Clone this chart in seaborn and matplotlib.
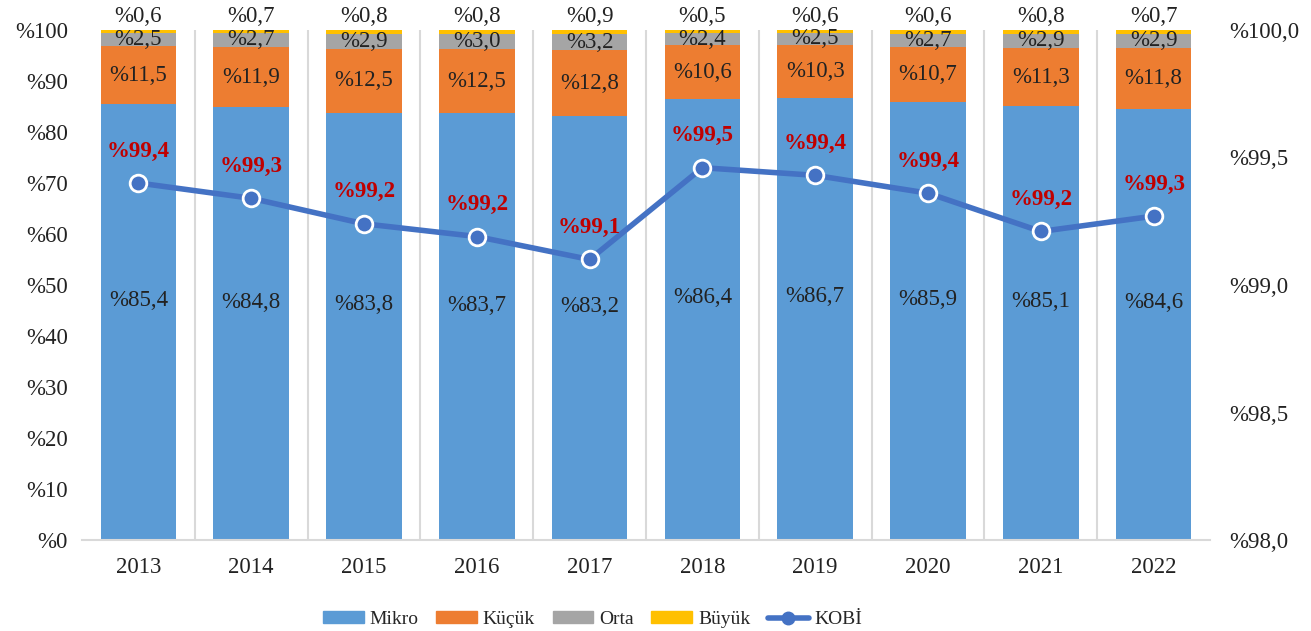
import matplotlib
matplotlib.use('Agg')
import matplotlib.pyplot as plt
import numpy as np
import pandas as pd
import seaborn as sns
from matplotlib.patches import Patch
from matplotlib.lines import Line2D

years = ["2013", "2014", "2015", "2016", "2017", "2018", "2019", "2020", "2021", "2022"]
mikro = [85.4, 84.8, 83.8, 83.7, 83.2, 86.4, 86.7, 85.9, 85.1, 84.6]
kucuk = [11.5, 11.9, 12.5, 12.5, 12.8, 10.6, 10.3, 10.7, 11.3, 11.8]
orta = [2.5, 2.7, 2.9, 3.0, 3.2, 2.4, 2.5, 2.7, 2.9, 2.9]
buyuk = [0.6, 0.7, 0.8, 0.8, 0.9, 0.5, 0.6, 0.6, 0.8, 0.7]
kobi = [99.40, 99.34, 99.24, 99.19, 99.10, 99.46, 99.43, 99.36, 99.21, 99.27]

colors = {"Mikro": "#5B9BD5", "Küçük": "#ED7D31", "Orta": "#A5A5A5", "Büyük": "#FFC000"}
line_color = "#4472C4"
fs = 16.5

sns.set_style("white")
plt.rcParams['font.family'] = ['Liberation Serif', 'DejaVu Serif']

def fmt(v, nd=1):
    return "%" + f"{v:.{nd}f}".replace(".", ",")

fig = plt.figure(figsize=(13.11, 6.31), dpi=100)
ax = fig.add_axes([0.0625, 0.1442, 0.8605, 0.8083])

df = pd.DataFrame({"year": years, "Mikro": mikro, "Küçük": kucuk, "Orta": orta, "Büyük": buyuk})
bottom = np.zeros(len(years))
for name in ["Mikro", "Küçük", "Orta", "Büyük"]:
    sns.barplot(data=df, x="year", y=name, color=colors[name], bottom=bottom,
                width=0.67, saturation=1, ax=ax, edgecolor="none")
    bottom = bottom + df[name].values

# bar labels
for i in range(len(years)):
    ax.text(i, mikro[i] * 0.55, fmt(mikro[i]), ha='center', va='center', fontsize=fs, color='#222222')
    ax.text(i, mikro[i] + kucuk[i] / 2, fmt(kucuk[i]), ha='center', va='center', fontsize=fs, color='#222222')
    ax.text(i, mikro[i] + kucuk[i] + orta[i] / 2, fmt(orta[i]), ha='center', va='center', fontsize=fs, color='#222222')
    ax.text(i, 102.6, fmt(buyuk[i]), ha='center', va='center', fontsize=fs, color='#222222', clip_on=False)

ax.set_xlim(-0.5, len(years) - 0.5)
ax.set_ylim(0, 100)
ax.set_yticks(range(0, 101, 10))
ax.set_yticklabels(["%" + str(v) for v in range(0, 101, 10)])
ax.set_xlabel("")
ax.set_ylabel("")
ax.tick_params(axis='both', labelsize=fs, length=0, colors='#222222')
ax.tick_params(axis='x', pad=12)
ax.tick_params(axis='y', pad=10)
for b in np.arange(0.5, len(years) - 0.5, 1):
    ax.axvline(b, color='#D9D9D9', lw=1.5, zorder=0)
for s in ["top", "left", "right"]:
    ax.spines[s].set_visible(False)
ax.spines["bottom"].set_color('#D9D9D9')
ax.spines["bottom"].set_linewidth(1.5)

ax2 = ax.twinx()
sns.lineplot(x=np.arange(len(years)), y=kobi, ax=ax2, color=line_color, lw=4,
             marker='o', markersize=12, markerfacecolor=line_color,
             markeredgecolor='white', markeredgewidth=2)
ax2.set_ylim(98.0, 100.0)
ax2.set_yticks(np.arange(98.0, 100.01, 0.5))
ax2.set_yticklabels([fmt(v) for v in np.arange(98.0, 100.01, 0.5)])
ax2.tick_params(axis='y', labelsize=fs, length=0, pad=14, colors='#222222')
for s in ["top", "left", "right", "bottom"]:
    ax2.spines[s].set_visible(False)
for i, v in enumerate(kobi):
    ax2.text(i, v + 0.125, fmt(v), ha='center', va='center', fontsize=fs,
             fontweight='bold', color='#C00000')

handles = [Patch(color=colors[n], label=n) for n in ["Mikro", "Küçük", "Orta", "Büyük"]]
handles.append(Line2D([0], [0], color=line_color, lw=4, marker='o', markersize=9,
                      markerfacecolor=line_color, markeredgecolor=line_color, label="KOBİ"))
fig.legend(handles=handles, loc='center left', bbox_to_anchor=(0.233, 0.018), ncol=5, frameon=False,
           fontsize=14, handlelength=2.1, handleheight=0.6, columnspacing=0.9, handletextpad=0.3)

fig.savefig("out.png", dpi=100)
